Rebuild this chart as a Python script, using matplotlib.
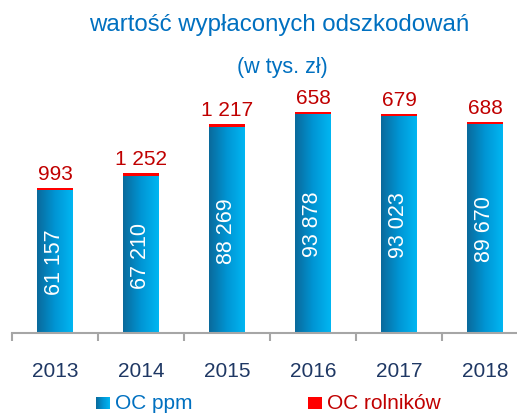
import numpy as np
import matplotlib
matplotlib.use("Agg")
import matplotlib.pyplot as plt
from matplotlib.patches import Rectangle
from matplotlib.colors import LinearSegmentedColormap

years = ["2013", "2014", "2015", "2016", "2017", "2018"]
oc_ppm = [61157, 67210, 88269, 93878, 93023, 89670]
oc_rolnikow = [993, 1252, 1217, 658, 679, 688]
ppm_labels = ["61 157", "67 210", "88 269", "93 878", "93 023", "89 670"]
rol_labels = ["993", "1 252", "1 217", "658", "679", "688"]

plt.rcParams['font.family'] = ['Liberation Sans', 'DejaVu Sans']

W, H = 517, 414
fig = plt.figure(figsize=(W / 100, H / 100), dpi=100)
ax = fig.add_axes([12 / W, (H - 334) / H, 516 / W, 280 / H])
ax.set_xlim(-0.5, 5.5)
ax.set_ylim(0, 120000)

cmap = LinearSegmentedColormap.from_list("bl", ["#0a6a9c", "#0095d4", "#00b6f2"])
grad = np.linspace(0, 1, 64).reshape(1, -1)
bw = 0.407
x = np.arange(len(years))
for i in x:
    bars = ax.bar(i, oc_ppm[i], width=bw, color="none", edgecolor="none")
    rect = bars[0]
    im = ax.imshow(grad, cmap=cmap, aspect="auto",
                   extent=[i - bw / 2, i + bw / 2, 0, oc_ppm[i]], zorder=2)
    im.set_clip_path(rect)
    ax.bar(i, oc_rolnikow[i], bottom=oc_ppm[i], width=bw, color="#ff0000", zorder=3)
    ax.text(i, oc_ppm[i] / 2, ppm_labels[i], rotation=90, ha="center", va="center",
            color="white", fontsize=15.5, zorder=4)
    ax.annotate(rol_labels[i], (i, oc_ppm[i] + oc_rolnikow[i]), xytext=(0, 6.5),
                textcoords="offset points", ha="center", va="baseline",
                color="#c00000", fontsize=15)

ax.set_xlim(-0.5, 5.5)
ax.set_ylim(0, 120000)
for s in ["top", "right", "left"]:
    ax.spines[s].set_visible(False)
ax.spines["bottom"].set_color("#a6a6a6")
ax.spines["bottom"].set_linewidth(1.5)
ax.set_yticks([])
ax.set_xticks(np.arange(-0.5, 6.0, 1.0))
ax.set_xticklabels([])
ax.tick_params(axis="x", which="major", direction="out", length=6, width=1.5, color="#a6a6a6")
ax.set_xticks(x, minor=True)
ax.set_xticklabels(years, minor=True)
ax.tick_params(axis="x", which="minor", length=0, pad=20, labelsize=15, labelcolor="#1f3864")

fig.text(279 / W, 1 - 25 / H, "wartość wypłaconych odszkodowań", ha="center", va="center",
         color="#0070c0", fontsize=17.3)
fig.text(282 / W, 1 - 68 / H, "(w tys. zł)", ha="center", va="center",
         color="#0070c0", fontsize=15.5)

# legend
lax = fig.add_axes([96 / W, (H - 410) / H, 13 / W, 12 / H])
lax.imshow(grad, cmap=cmap, aspect="auto", extent=[0, 1, 0, 1])
lax.set_axis_off()
fig.text(115 / W, 1 - 404 / H, "OC ppm", ha="left", va="center", color="#0070c0", fontsize=15)
fig.patches.append(Rectangle((308 / W, (H - 410) / H), 14 / W, 12 / H, transform=fig.transFigure,
                             facecolor="#ff0000", edgecolor="none"))
fig.text(327 / W, 1 - 404 / H, "OC rolników", ha="left", va="center", color="#c00000", fontsize=15)

fig.savefig("out.png", dpi=100)
